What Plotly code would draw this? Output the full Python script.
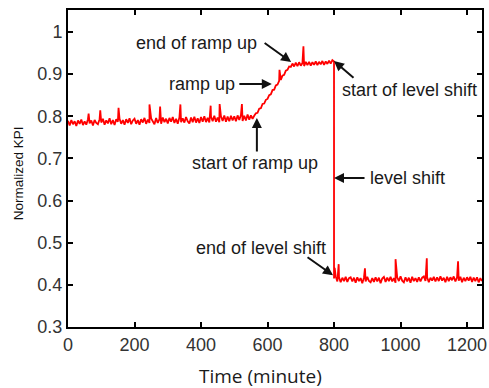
import plotly.graph_objects as go

# ---- data ----
t_before = list(range(0, 560, 5))
kpi_before = [
    0.789, 0.778, 0.791, 0.781, 0.788, 0.777, 0.790, 0.782, 0.792, 0.779,
    0.788, 0.780, 0.793, 0.783, 0.790, 0.778, 0.791, 0.784, 0.781, 0.793,
    0.785, 0.794, 0.780, 0.790, 0.783, 0.795, 0.781, 0.791, 0.779, 0.793,
    0.787, 0.794, 0.782, 0.791, 0.780, 0.793, 0.784, 0.795, 0.781, 0.790,
    0.794, 0.782, 0.791, 0.780, 0.793, 0.785, 0.796, 0.782, 0.792, 0.784,
    0.795, 0.786, 0.781, 0.796, 0.784, 0.793, 0.782, 0.797, 0.786, 0.794,
    0.783, 0.796, 0.787, 0.798, 0.784, 0.794, 0.782, 0.797, 0.786, 0.795,
    0.785, 0.798, 0.788, 0.783, 0.797, 0.786, 0.799, 0.785, 0.795, 0.784,
    0.798, 0.787, 0.800, 0.786, 0.796, 0.785, 0.799, 0.788, 0.801, 0.787,
    0.797, 0.786, 0.800, 0.789, 0.802, 0.787, 0.799, 0.788, 0.801, 0.790,
    0.800, 0.788, 0.802, 0.791, 0.803, 0.789, 0.801, 0.790, 0.804, 0.792,
    0.802, 0.794,
]

t_ramp = list(range(560, 670, 5))
kpi_ramp = [
    0.801, 0.807, 0.808, 0.818, 0.819, 0.829, 0.830, 0.839, 0.841, 0.850,
    0.852, 0.862, 0.863, 0.873, 0.875, 0.884, 0.886, 0.896, 0.898, 0.908,
    0.910, 0.918,
]

t_plateau = list(range(670, 805, 5))
kpi_plateau = [
    0.917, 0.925, 0.918, 0.927, 0.919, 0.928, 0.920, 0.926, 0.919, 0.929,
    0.921, 0.929, 0.920, 0.928, 0.922, 0.930, 0.921, 0.929, 0.923, 0.931,
    0.922, 0.930, 0.924, 0.932, 0.925, 0.933, 0.930,
]

t_after = [800] + list(range(805, 1250, 5))
kpi_after = [
    0.415,
    0.420, 0.408, 0.418, 0.406, 0.417, 0.409, 0.419, 0.407, 0.416, 0.418,
    0.408, 0.417, 0.405, 0.418, 0.409, 0.416, 0.404, 0.417, 0.408, 0.419,
    0.409, 0.406, 0.416, 0.407, 0.418, 0.408, 0.417, 0.404, 0.415, 0.419,
    0.407, 0.417, 0.409, 0.419, 0.408, 0.416, 0.405, 0.418, 0.409, 0.420,
    0.410, 0.406, 0.418, 0.408, 0.417, 0.405, 0.419, 0.409, 0.416, 0.407,
    0.418, 0.408, 0.417, 0.420, 0.409, 0.418, 0.406, 0.417, 0.410, 0.419,
    0.408, 0.418, 0.409, 0.420, 0.410, 0.417, 0.406, 0.419, 0.409, 0.418,
    0.411, 0.420, 0.408, 0.418, 0.410, 0.419, 0.406, 0.417, 0.409, 0.418,
    0.410, 0.419, 0.407, 0.417, 0.409, 0.418, 0.406, 0.416, 0.409,
]

spike_t = [62, 97, 152, 245, 277, 338, 429, 456, 523, 636, 708,
           802, 814, 893, 985, 1079, 1173]
spike_kpi = [0.806, 0.814, 0.820, 0.828, 0.823, 0.828, 0.825, 0.829, 0.829,
             0.910, 0.966, 0.440, 0.449, 0.439, 0.461, 0.463, 0.456]

x_ticks = [0, 200, 400, 600, 800, 1000, 1200]
y_ticks = [0.3, 0.4, 0.5, 0.6, 0.7, 0.8, 0.9, 1.0]
y_tick_labels = ["0.3", "0.4", "0.5", "0.6", "0.7", "0.8", "0.9", "1"]

# ---- build series (stable sort keeps the 800-minute drop order) ----
pairs = (list(zip(t_before, kpi_before)) + list(zip(t_ramp, kpi_ramp))
         + list(zip(t_plateau, kpi_plateau)) + list(zip(t_after, kpi_after))
         + list(zip(spike_t, spike_kpi)))
pairs = sorted(pairs, key=lambda p: p[0])
xs = [p[0] for p in pairs]
ys = [p[1] for p in pairs]

# ---- annotations: label text, label position, arrow head, arrow tail offset (px) ----
labels = ["end of ramp up", "ramp up", "start of ramp up",
          "start of level shift", "level shift", "end of level shift"]
label_t = [386, 403, 562, 1026, 1021, 580]
label_kpi = [0.974, 0.8765, 0.689, 0.862, 0.653, 0.487]
head_t = [671, 613, 568, 800, 800, 797]
head_kpi = [0.9287, 0.8765, 0.7957, 0.931, 0.6532, 0.4228]
tail_dx = [-28, -34, 0, 21, 32, -27]
tail_dy = [-20, 0, 35, 18, 0, -19]

fig = go.Figure()
fig.add_trace(go.Scatter(x=xs, y=ys, mode="lines",
                         line=dict(color="#ff0000", width=1.8),
                         showlegend=False, hoverinfo="skip"))

annos = []
for i in range(len(labels)):
    annos.append(dict(x=label_t[i], y=label_kpi[i], xref="x", yref="y",
                      text=labels[i], showarrow=False,
                      xanchor="center", yanchor="middle",
                      font=dict(family="Liberation Sans, Arial", size=18, color="#1a1a1a")))
    annos.append(dict(x=head_t[i], y=head_kpi[i], xref="x", yref="y",
                      text="", showarrow=True, ax=tail_dx[i], ay=tail_dy[i],
                      arrowhead=2, arrowsize=1, arrowwidth=2, arrowcolor="#111"))

annos.append(dict(x=0.464, y=-0.155, xref="paper", yref="paper",
                  text="Time (minute)", showarrow=False,
                  xanchor="center", yanchor="middle",
                  font=dict(family="Open Sans", size=19, color="#1a1a1a")))
annos.append(dict(x=-0.121, y=0.485, xref="paper", yref="paper",
                  text="Normalized KPI", showarrow=False, textangle=-90,
                  xanchor="center", yanchor="middle",
                  font=dict(family="Liberation Sans, Arial", size=13.5, color="#111")))

axis_common = dict(showgrid=False, zeroline=False, showline=True,
                   linecolor="black", linewidth=2, mirror="ticks",
                   ticks="inside", ticklen=5, tickwidth=1.5, tickcolor="black",
                   automargin=False,
                   tickfont=dict(family="Liberation Sans, Arial", size=18, color="#333"))

fig.update_layout(
    width=489, height=388,
    margin=dict(l=68, r=7, t=10, b=61),
    paper_bgcolor="white", plot_bgcolor="white",
    xaxis=dict(range=[0, 1245], tickvals=x_ticks, **axis_common),
    yaxis=dict(range=[0.3, 1.052], tickvals=y_ticks, ticktext=y_tick_labels,
               **axis_common),
    annotations=annos,
)

fig.write_html("out.html")
